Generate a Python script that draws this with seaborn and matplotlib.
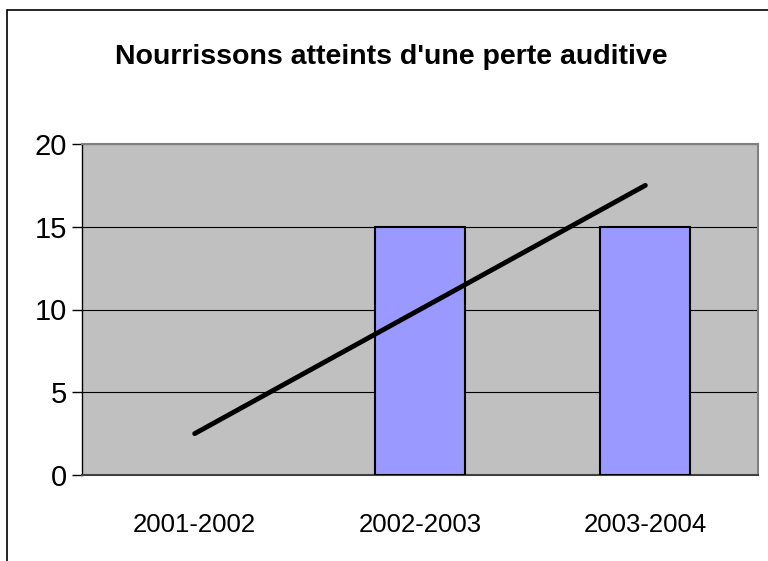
import numpy as np
import pandas as pd
import matplotlib
matplotlib.use("Agg")
import matplotlib.pyplot as plt
import seaborn as sns
from matplotlib.patches import Rectangle

categories = ["2001-2002", "2002-2003", "2003-2004"]
values = [0, 15, 15]
title = "Nourrissons atteints d'une perte auditive"
yticks = [0, 5, 10, 15, 20]

sns.set_style("white")
plt.rcParams["font.family"] = ["Liberation Sans", "DejaVu Sans"]
plt.rcParams["text.color"] = "black"
plt.rcParams["xtick.color"] = "black"
plt.rcParams["ytick.color"] = "black"

fig = plt.figure(figsize=(7.68, 5.61), dpi=100)
ax = fig.add_axes([82/768, 1-475/561, (758-82)/768, (475-144)/561])
ax.set_facecolor("#C0C0C0")

df = pd.DataFrame({"cat": categories, "val": values})
sns.barplot(data=df, x="cat", y="val", color="#9999FF", saturation=1,
            edgecolor="black", linewidth=1.5, width=0.4, ax=ax, zorder=3)
for p in ax.patches:
    if p.get_height() == 0:
        p.set_linewidth(0)

# linear trendline
pos = np.arange(len(categories))
sns.regplot(x=pos, y=np.array(values, dtype=float), scatter=False, ci=None,
            truncate=True, color="black", line_kws={"linewidth": 3.5, "zorder": 4}, ax=ax)

ax.set_xlim(-0.5, len(categories) - 0.5)
ax.set_ylim(0, 20)
ax.set_yticks(yticks)
ax.set_yticklabels([str(v) for v in yticks], fontsize=21, color="black")
ax.yaxis.grid(True, color="black", linewidth=0.8)
ax.set_axisbelow(True)
ax.set_xticks(pos)
ax.set_xticklabels(categories, fontsize=18.5, color="black")
ax.set_xticks(np.arange(len(categories) + 1) - 0.5, minor=True)
ax.tick_params(axis="x", which="major", length=0, pad=27)
ax.tick_params(axis="x", which="minor", length=7, width=1.2, color="#606060", direction="out")
ax.tick_params(axis="y", length=7, width=1, color="black", direction="out", pad=4, left=True)
ax.set_xlabel("")
ax.set_ylabel("")
for s in ["top", "right"]:
    ax.spines[s].set_color("#808080")
    ax.spines[s].set_linewidth(1.5)
ax.spines["left"].set_color("black")
ax.spines["bottom"].set_color("#404040")
ax.spines["left"].set_linewidth(1)
ax.spines["bottom"].set_linewidth(1.5)

fig.text(391.5/768, 1-57/561, title, ha="center", va="center",
         fontsize=20.5, fontweight="bold", color="black")

fig.patches.append(Rectangle((6.5/768, -0.1), 1.2, 1.1 - 10/561,
                             transform=fig.transFigure, fill=False,
                             edgecolor="black", linewidth=1.2))

fig.savefig("out.png", dpi=100)
